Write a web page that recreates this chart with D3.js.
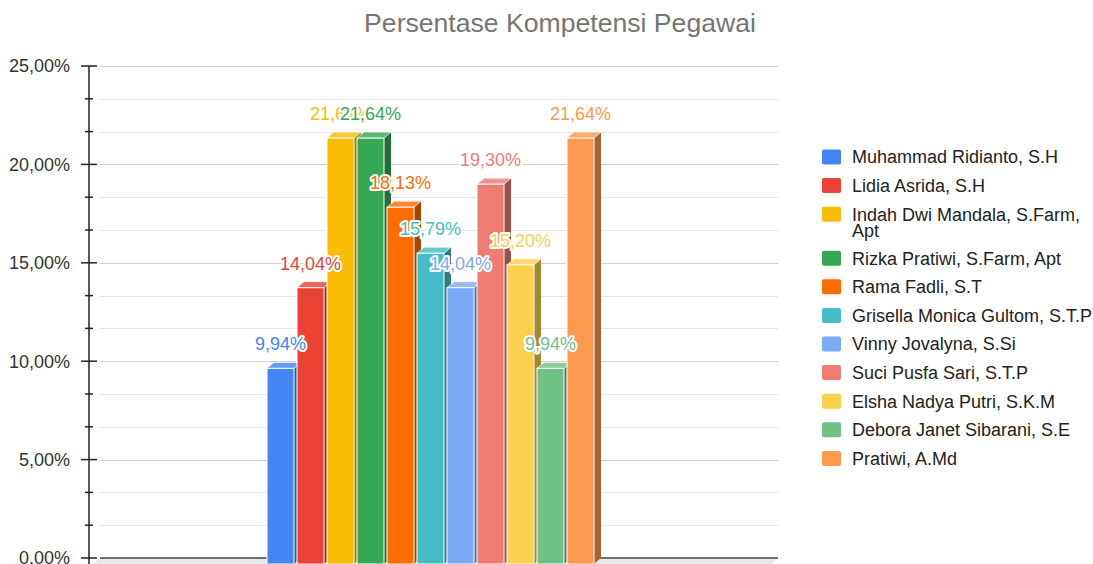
<!DOCTYPE html>
<html>
<head>
<meta charset="utf-8">
<script src="https://cdn.jsdelivr.net/npm/d3@7"></script>
<style>
  body { margin: 0; background: #fff; }
  text { font-family: Arial, "Liberation Sans", sans-serif; }
</style>
</head>
<body>
<div id="chart"></div>
<script>
// data
var names = [
    "Muhammad Ridianto, S.H",
    "Lidia Asrida, S.H",
    "Indah Dwi Mandala, S.Farm, Apt",
    "Rizka Pratiwi, S.Farm, Apt",
    "Rama Fadli, S.T",
    "Grisella Monica Gultom, S.T.P",
    "Vinny Jovalyna, S.Si",
    "Suci Pusfa Sari, S.T.P",
    "Elsha Nadya Putri, S.K.M",
    "Debora Janet Sibarani, S.E",
    "Pratiwi, A.Md"
];
var values = [9.94, 14.04, 21.64, 21.64, 18.13, 15.79, 14.04, 19.30, 15.20, 9.94, 21.64];
var colors = ["#4285f4", "#ea4335", "#fbbc04", "#34a853", "#ff6d01", "#46bdc6",
              "#7baaf7", "#f07b72", "#fcd04f", "#71c287", "#ff994d"];
var yTicks = [0, 5, 10, 15, 20, 25];
var title = "Persentase Kompetensi Pegawai";

var w = 1093, h = 564;
var depthX = 7, depthY = 6;   // 3d offset of the bars
var gridLeft = 100, gridRight = 778;

var fmt = function (v) { return v.toFixed(2).replace(".", ",") + "%"; };

var svg = d3.select("#chart")
    .append("svg")
    .attr("width", w)
    .attr("height", h);

var yScale = d3.scaleLinear()
    .domain([0, 25])
    .range([558, 66]);

var xScale = d3.scaleBand()
    .domain(names)
    .range([267, 594])
    .paddingInner(0.1);

// title
svg.append("text")
    .attr("x", 560)
    .attr("y", 32)
    .attr("text-anchor", "middle")
    .attr("font-size", "26.6px")
    .attr("fill", "#757575")
    .text(title);

// gridlines, minor every 5/3 %
var minor = d3.range(0, 25.001, 5 / 3);
var isMajor = d => Math.abs(d / 5 - Math.round(d / 5)) < 0.01;

svg.append("g").selectAll("line")
    .data(minor)
    .enter()
    .append("line")
    .attr("x1", gridLeft)
    .attr("x2", gridRight)
    .attr("y1", d => Math.round(yScale(d)) + 0.5)
    .attr("y2", d => Math.round(yScale(d)) + 0.5)
    .attr("stroke", d => isMajor(d) ? "#d0d0d0" : "#e6e6e6")
    .attr("stroke-width", 1.2);

// floor under the bars
svg.append("path")
    .attr("d", "M" + gridLeft + "," + yScale(0) + "L" + gridRight + "," + yScale(0) +
        "L" + (gridRight - depthX) + "," + (yScale(0) + depthY) +
        "L" + (gridLeft - depthX) + "," + (yScale(0) + depthY) + "Z")
    .attr("fill", "#e8e8e8");

svg.append("line")
    .attr("x1", gridLeft)
    .attr("x2", gridRight)
    .attr("y1", yScale(0))
    .attr("y2", yScale(0))
    .attr("stroke", "#444")
    .attr("stroke-width", 1.5);

// y axis with minor ticks
var axisX = 89;
svg.append("line")
    .attr("x1", axisX).attr("x2", axisX)
    .attr("y1", yScale(25)).attr("y2", h)
    .attr("stroke", "#222")
    .attr("stroke-width", 1.5);

svg.append("g").selectAll("line")
    .data(minor)
    .enter()
    .append("line")
    .attr("x1", d => isMajor(d) ? axisX - 8 : axisX - 4)
    .attr("x2", d => isMajor(d) ? axisX + 8 : axisX + 4)
    .attr("y1", d => yScale(d))
    .attr("y2", d => yScale(d))
    .attr("stroke", "#222")
    .attr("stroke-width", 1.5);

svg.append("g").selectAll("text")
    .data(yTicks)
    .enter()
    .append("text")
    .attr("x", 70)
    .attr("y", d => yScale(d))
    .attr("dy", "0.35em")
    .attr("text-anchor", "end")
    .attr("font-size", "18px")
    .attr("fill", "#333")
    .text(fmt);

// bars, drawn left to right so each covers the side of the one before
var bars = svg.append("g").selectAll("g")
    .data(names)
    .enter()
    .append("g");

bars.each(function (d, i) {
    var g = d3.select(this);
    var x0 = xScale(d), x1 = x0 + xScale.bandwidth();
    var top = yScale(values[i]) + depthY;
    var bottom = yScale(0) + depthY;
    var c = d3.color(colors[i]);

    // side face
    g.append("path")
        .attr("d", "M" + x1 + "," + top + "L" + (x1 + depthX) + "," + (top - depthY) +
            "L" + (x1 + depthX) + "," + (bottom - depthY) + "L" + x1 + "," + bottom + "Z")
        .attr("fill", c.darker(1.2));
    // top face
    g.append("path")
        .attr("d", "M" + x0 + "," + top + "L" + (x0 + depthX) + "," + (top - depthY) +
            "L" + (x1 + depthX) + "," + (top - depthY) + "L" + x1 + "," + top + "Z")
        .attr("fill", d3.interpolateRgb(colors[i], "#fff")(0.18))
        .attr("stroke", "#fff")
        .attr("stroke-width", 0.6);
    // front face
    g.append("rect")
        .attr("x", x0)
        .attr("y", top)
        .attr("width", xScale.bandwidth())
        .attr("height", bottom - top)
        .attr("fill", colors[i])
        .attr("stroke", "#fff")
        .attr("stroke-width", 1);
});

// value labels
svg.append("g").selectAll("text")
    .data(names)
    .enter()
    .append("text")
    .attr("x", d => xScale(d) + xScale.bandwidth() / 2)
    .attr("y", (d, i) => yScale(values[i]) - 12)
    .attr("text-anchor", "middle")
    .attr("font-size", "18px")
    .attr("fill", (d, i) => colors[i])
    .attr("stroke", "#fff")
    .attr("stroke-width", 4)
    .attr("stroke-linejoin", "round")
    .attr("paint-order", "stroke")
    .text((d, i) => fmt(values[i]));

// legend
var legend = svg.append("g");
var rowY = 157;
names.forEach(function (d, i) {
    legend.append("rect")
        .attr("x", 822)
        .attr("y", rowY - 7.5)
        .attr("width", 19)
        .attr("height", 15)
        .attr("rx", 2)
        .attr("fill", colors[i]);

    var t = legend.append("text")
        .attr("x", 852)
        .attr("y", rowY)
        .attr("dy", "0.35em")
        .attr("font-size", "18px")
        .attr("fill", "#222");

    // wrap long names
    var words = d.split(" "), line = [], lines = 0;
    var ts = t.append("tspan").attr("x", 852);
    words.forEach(function (word) {
        line.push(word);
        ts.text(line.join(" "));
        if (ts.node().getComputedTextLength() > 246 && line.length > 1) {
            line.pop();
            ts.text(line.join(" "));
            line = [word];
            lines++;
            ts = t.append("tspan").attr("x", 852).attr("dy", "16px").text(word);
        }
    });
    rowY += 28.6 + lines * 15.4;
});
</script>
</body>
</html>
